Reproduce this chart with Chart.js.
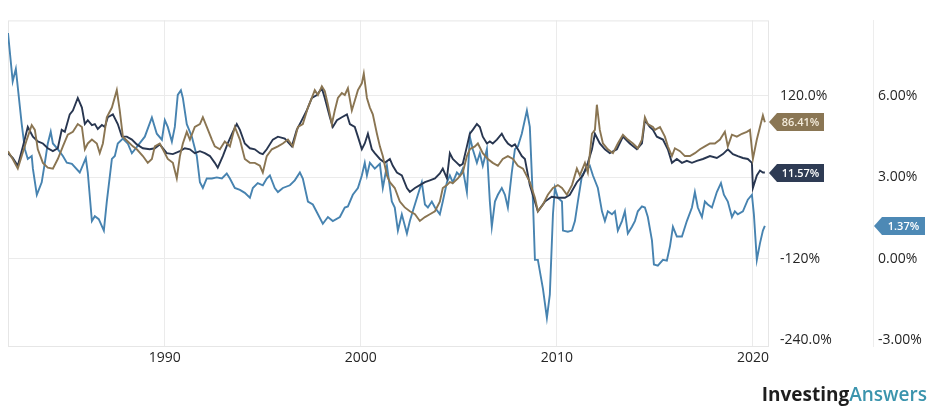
<!DOCTYPE html>
<html lang="en">
<head>
<meta charset="UTF-8">
<title>Returns and rates since 1982</title>
<script src="https://cdn.jsdelivr.net/npm/chart.js"></script>
<style>
  body { margin: 0; background: #fff; }
  #wrap { position: relative; width: 929px; height: 410px; }
  #logo {
    position: absolute; right: 2px; top: 385px;
    font: 700 19px "Open Sans", sans-serif; line-height: 1; color: #1e1e1e;
  }
  #logo span { color: #3b94ad; font-weight: 600; }
</style>
</head>
<body>
<div id="wrap">
  <canvas id="chart"></canvas>
  <div id="logo">Investing<span>Answers</span></div>
</div>

<script>
// x tick labels and both value axes
const xTicks = [1990, 2000, 2010, 2020];
const leftTicks = [120, 0, -120, -240];
const leftTickLabels = ["120.0%", "", "-120%", "-240.0%"];
const rightTicks = [6, 3, 0, -3];
const rightTickLabels = ["6.00%", "3.00%", "0.00%", "-3.00%"];

// end-of-line tags: tan, navy, blue
const endLabels = ["86.41%", "11.57%", "1.37%"];

// tan series (left axis)
const tanYears = [
  1982.00,1982.24,1982.50,1982.70,1982.96,1983.21,1983.37,1983.52,1983.78,1984.03,
  1984.29,1984.54,1984.80,1985.05,1985.31,1985.56,1985.77,1985.92,1986.07,1986.28,
  1986.53,1986.68,1986.84,1987.04,1987.30,1987.55,1987.70,1987.86,1988.11,1988.37,
  1988.57,1988.88,1989.13,1989.34,1989.49,1989.74,1989.90,1990.15,1990.41,1990.61,
  1990.77,1990.92,1991.12,1991.28,1991.53,1991.79,1991.94,1992.14,1992.40,1992.55,
  1992.81,1993.06,1993.32,1993.57,1993.83,1994.08,1994.34,1994.59,1994.85,1995.00,
  1995.20,1995.46,1995.77,1996.02,1996.28,1996.53,1996.79,1997.04,1997.30,1997.50,
  1997.65,1997.81,1998.01,1998.16,1998.32,1998.52,1998.67,1998.83,1999.03,1999.18,
  1999.34,1999.54,1999.69,1999.85,2000.05,2000.15,2000.31,2000.46,2000.61,2000.82,
  2000.97,2001.12,2001.33,2001.48,2001.73,2001.99,2002.24,2002.50,2002.76,2003.01,
  2003.27,2003.52,2003.78,2004.03,2004.18,2004.39,2004.54,2004.69,2004.95,2005.20,
  2005.41,2005.56,2005.82,2005.97,2006.22,2006.48,2006.73,2006.99,2007.24,2007.50,
  2007.76,2008.01,2008.27,2008.62,2008.88,2009.03,2009.29,2009.54,2009.80,2010.05,
  2010.26,2010.51,2010.77,2011.02,2011.17,2011.43,2011.58,2011.79,2011.94,2012.04,
  2012.19,2012.35,2012.60,2012.86,2013.11,2013.37,2013.62,2013.88,2014.13,2014.34,
  2014.49,2014.64,2014.90,2015.00,2015.26,2015.51,2015.66,2015.87,2016.02,2016.28,
  2016.53,2016.79,2017.04,2017.30,2017.55,2017.81,2018.06,2018.32,2018.57,2018.72,
  2018.93,2019.18,2019.44,2019.69,2019.85,2020.00,2020.20,2020.36,2020.51,2020.61
];
const tanValues = [
  38.6,27.1,12.9,31.4,55.7,77.1,70.0,41.4,21.4,14.3,
  12.9,27.1,45.7,62.9,67.1,78.6,74.3,41.4,50.0,55.7,
  50.0,35.7,50.0,88.6,102.9,128.6,98.6,60.0,52.9,45.7,
  41.4,31.4,21.4,27.1,45.7,50.0,41.4,27.1,21.4,-1.4,
  31.4,50.0,67.1,55.7,74.3,78.6,88.6,74.3,55.7,45.7,
  41.4,52.9,45.7,74.3,55.7,27.1,21.4,21.4,17.1,7.1,
  31.4,41.4,45.7,50.0,55.7,45.7,74.3,78.6,102.9,117.1,
  128.6,121.4,134.3,127.1,107.1,78.6,98.6,117.1,124.3,121.4,
  131.4,98.6,112.9,128.6,138.6,152.9,117.1,102.9,92.9,64.3,
  45.7,31.4,2.9,-7.1,-15.7,-35.7,-44.3,-50.0,-54.3,-64.3,
  -58.6,-54.3,-50.0,-35.7,-15.7,-11.4,-7.1,-8.6,-1.4,7.1,
  31.4,41.4,45.7,50.0,35.7,27.1,21.4,17.1,27.1,31.4,
  27.1,17.1,12.9,-7.1,-30.0,-50.0,-40.0,-25.7,-15.7,-11.4,
  -15.7,-25.7,-11.4,12.9,2.9,21.4,7.1,64.3,70.0,107.1,
  70.0,50.0,41.4,35.7,50.0,62.9,55.7,50.0,42.9,55.7,
  88.6,78.6,74.3,70.0,74.3,60.0,45.7,31.4,42.9,38.6,
  31.4,31.4,35.7,41.4,45.7,50.0,50.0,55.7,67.1,45.7,
  62.9,60.0,64.3,67.1,70.0,27.1,55.7,74.3,91.4,81.4
];

// navy series (left axis)
const navyYears = [
  1982.00,1982.24,1982.50,1982.76,1983.01,1983.27,1983.52,1983.78,1984.03,1984.29,
  1984.54,1984.74,1984.90,1985.15,1985.31,1985.56,1985.77,1985.92,1986.07,1986.28,
  1986.43,1986.58,1986.79,1986.94,1987.09,1987.35,1987.60,1987.81,1988.06,1988.32,
  1988.57,1988.88,1989.23,1989.49,1989.74,1990.10,1990.41,1990.77,1991.02,1991.28,
  1991.53,1991.79,1992.04,1992.30,1992.55,1992.70,1992.96,1993.21,1993.47,1993.67,
  1993.83,1994.08,1994.34,1994.59,1994.85,1995.00,1995.20,1995.51,1995.77,1996.12,
  1996.48,1996.73,1996.99,1997.24,1997.50,1997.76,1998.01,1998.16,1998.42,1998.57,
  1998.78,1999.03,1999.29,1999.44,1999.69,1999.85,2000.05,2000.20,2000.36,2000.56,
  2000.71,2000.97,2001.22,2001.48,2001.63,2001.84,2002.09,2002.35,2002.50,2002.76,
  2003.01,2003.27,2003.52,2003.78,2004.03,2004.18,2004.39,2004.54,2004.69,2004.90,
  2005.05,2005.20,2005.41,2005.56,2005.71,2005.92,2006.07,2006.22,2006.43,2006.58,
  2006.73,2006.94,2007.19,2007.35,2007.50,2007.70,2007.86,2008.01,2008.21,2008.37,
  2008.62,2009.03,2009.39,2009.74,2010.05,2010.41,2010.66,2011.02,2011.33,2011.58,
  2011.79,2011.94,2012.19,2012.45,2012.70,2013.06,2013.37,2013.72,2014.08,2014.34,
  2014.49,2014.74,2014.90,2015.10,2015.41,2015.66,2015.87,2016.12,2016.38,2016.63,
  2016.89,2017.14,2017.45,2017.81,2018.16,2018.47,2018.72,2018.98,2019.23,2019.49,
  2019.74,2019.95,2020.00,2020.20,2020.36,2020.51,2020.61
];
const navyValues = [
  35.7,28.6,17.1,45.7,74.3,60.0,52.9,50.0,42.9,38.6,
  42.9,70.0,67.1,92.9,98.6,117.1,102.9,78.6,84.3,77.1,
  78.6,71.4,77.1,74.3,88.6,92.9,78.6,60.0,60.0,55.7,
  48.6,42.9,41.4,42.9,48.6,35.7,34.3,38.6,42.9,41.4,
  35.7,38.6,35.7,31.4,21.4,14.3,31.4,50.0,67.1,78.6,
  70.0,50.0,42.9,41.4,35.7,34.3,41.4,55.7,60.0,57.1,
  45.7,70.0,84.3,98.6,117.1,121.4,131.4,117.1,88.6,74.3,
  84.3,88.6,92.9,78.6,74.3,60.0,41.4,50.0,64.3,41.4,
  35.7,27.1,21.4,27.1,17.1,7.1,2.9,-15.7,-21.4,-15.7,
  -11.4,-7.1,-4.3,-1.4,5.7,12.9,-1.4,35.7,27.1,21.4,
  17.1,20.0,45.7,64.3,70.0,78.6,74.3,60.0,50.0,52.9,
  50.0,55.7,64.3,55.7,50.0,45.7,48.6,41.4,31.4,27.1,
  -11.4,-50.0,-35.7,-28.6,-30.0,-30.0,-25.7,-7.1,2.9,21.4,
  41.4,64.3,50.0,41.4,35.7,41.4,60.0,50.0,41.4,50.0,
  84.3,74.3,70.0,60.0,55.7,41.4,21.4,27.1,21.4,24.3,
  21.4,24.3,27.1,31.4,28.6,34.3,41.4,34.3,31.4,28.6,
  27.1,21.4,-15.7,2.9,10.0,7.1,7.1
];

// light blue series (right axis)
const blueYears = [
  1982.00,1982.24,1982.40,1982.70,1982.86,1983.01,1983.21,1983.27,1983.47,1983.72,
  1983.88,1984.03,1984.18,1984.29,1984.54,1984.80,1985.00,1985.26,1985.66,1985.97,
  1986.07,1986.28,1986.43,1986.63,1986.89,1987.04,1987.30,1987.45,1987.60,1987.86,
  1988.11,1988.32,1988.98,1989.34,1989.59,1989.85,1990.00,1990.15,1990.36,1990.51,
  1990.66,1990.82,1990.92,1991.12,1991.38,1991.63,1991.79,1991.94,1992.14,1992.40,
  1992.65,1992.91,1993.16,1993.32,1993.57,1993.83,1994.08,1994.34,1994.49,1994.74,
  1995.00,1995.20,1995.36,1995.61,1995.77,1996.02,1996.38,1996.63,1996.89,1997.04,
  1997.30,1997.55,1997.81,1998.06,1998.32,1998.57,1998.93,1999.18,1999.34,1999.59,
  1999.85,2000.05,2000.20,2000.31,2000.46,2000.71,2000.97,2001.12,2001.33,2001.58,
  2001.73,2001.89,2002.09,2002.35,2002.50,2002.65,2002.91,2003.11,2003.27,2003.42,
  2003.62,2003.78,2004.03,2004.18,2004.39,2004.54,2004.69,2004.90,2005.05,2005.20,
  2005.41,2005.56,2005.71,2005.92,2006.07,2006.22,2006.43,2006.58,2006.68,2006.84,
  2006.99,2007.19,2007.35,2007.50,2007.70,2007.86,2008.01,2008.21,2008.47,2008.62,
  2008.78,2008.88,2009.03,2009.29,2009.49,2009.64,2009.80,2009.90,2010.05,2010.26,
  2010.31,2010.56,2010.77,2010.92,2011.07,2011.28,2011.53,2011.68,2011.84,2012.09,
  2012.30,2012.45,2012.60,2012.81,2012.96,2013.11,2013.32,2013.47,2013.62,2013.83,
  2013.98,2014.13,2014.34,2014.49,2014.64,2014.85,2014.95,2015.15,2015.41,2015.61,
  2015.77,2015.92,2016.12,2016.38,2016.63,2016.89,2017.04,2017.19,2017.40,2017.55,
  2017.70,2017.91,2018.16,2018.37,2018.52,2018.72,2018.93,2019.08,2019.23,2019.49,
  2019.74,2019.95,2020.05,2020.20,2020.36,2020.51,2020.61
];
const blueValues = [
  8.32,6.54,7.00,4.96,4.04,3.68,3.79,3.32,2.36,2.82,
  3.54,4.25,4.68,4.25,4.04,3.79,3.54,3.50,3.18,3.71,
  3.18,1.39,1.57,1.46,1.04,2.11,3.68,3.79,4.25,4.43,
  4.25,3.89,4.50,5.21,4.61,4.39,5.11,4.86,4.32,4.86,
  6.04,6.21,5.93,4.96,4.50,3.79,2.82,2.61,2.96,2.96,
  3.00,2.96,3.14,2.96,2.61,2.54,2.43,2.25,2.61,2.79,
  2.71,2.96,3.07,2.61,2.46,2.61,2.71,2.89,3.18,2.96,
  2.11,2.00,1.64,1.29,1.54,1.39,1.54,1.89,1.93,2.36,
  2.61,3.07,3.54,3.07,3.54,3.32,3.50,2.61,3.43,2.11,
  1.89,1.04,1.64,0.93,1.39,1.75,2.36,2.82,2.00,1.89,
  2.11,1.89,1.64,2.11,2.82,3.07,2.82,3.18,3.07,3.32,
  2.46,4.50,4.04,3.54,3.89,3.43,4.04,2.11,1.18,2.11,
  2.36,2.61,2.36,1.89,3.18,4.04,4.14,4.61,5.46,4.86,
  2.11,-0.04,-0.04,-1.11,-2.18,-1.32,1.64,2.61,2.25,2.11,
  1.04,1.00,1.04,1.39,2.11,3.07,3.32,3.43,3.07,2.61,
  1.75,1.39,1.75,1.64,1.75,1.04,1.39,1.75,0.93,1.18,
  1.39,1.75,1.93,1.89,1.54,0.68,-0.21,-0.25,-0.04,-0.07,
  0.46,1.18,0.82,0.82,1.39,1.89,2.46,1.89,1.54,2.11,
  2.00,1.89,2.46,2.79,2.36,2.11,1.54,1.75,1.64,1.75,
  2.18,2.36,1.64,-0.04,0.57,1.04,1.21
];

const pairs = (xs, ys) => xs.map((x, i) => ({ x: x, y: ys[i] }));
const tickFont = { family: "'Open Sans', sans-serif", size: 14, weight: "500" };
const gridColor = "#ebebeb";

// light frame round the plot
const frame = {
  id: "frame",
  beforeDatasetsDraw(chart) {
    const a = chart.chartArea, ctx = chart.ctx;
    ctx.save();
    ctx.strokeStyle = "#e6e6e6";
    ctx.lineWidth = 1;
    ctx.strokeRect(a.left + 0.5, a.top + 0.5, a.right - a.left, a.bottom - a.top);
    ctx.restore();
  }
};

// value tags at the end of each line
const tagFill = ["#8a7654", "#2e3b54", "#4d89b5"];
const tagText = ["#f4ecdc", "#ffffff", "#ffffff"];
const endTags = {
  id: "endTags",
  afterDraw(chart) {
    const ctx = chart.ctx;
    chart.data.datasets.forEach((ds, i) => {
      const last = ds.data[ds.data.length - 1];
      const scale = chart.scales[ds.yAxisID];
      const y = Math.round(scale.getPixelForValue(last.y));
      const x0 = ds.yAxisID === "y" ? chart.chartArea.right : scale.left;
      const w = ds.yAxisID === "y" ? 56 : 52;
      const h = 9;
      ctx.save();
      ctx.fillStyle = tagFill[i];
      ctx.beginPath();
      ctx.moveTo(x0 + 1, y);
      ctx.lineTo(x0 + 9, y - h);
      ctx.lineTo(x0 + w, y - h);
      ctx.lineTo(x0 + w, y + h);
      ctx.lineTo(x0 + 9, y + h);
      ctx.closePath();
      ctx.fill();
      ctx.fillStyle = tagText[i];
      ctx.font = "600 11px 'Open Sans', sans-serif";
      ctx.textAlign = "center";
      ctx.textBaseline = "middle";
      ctx.fillText(endLabels[i], x0 + (9 + w) / 2, y + 0.5);
      ctx.restore();
    });
  }
};

new Chart(document.getElementById("chart"), {
  type: "line",
  data: {
    datasets: [
      { data: pairs(tanYears, tanValues), borderColor: "#8a7552", yAxisID: "y", order: 0 },
      { data: pairs(navyYears, navyValues), borderColor: "#283650", yAxisID: "y", order: 1 },
      { data: pairs(blueYears, blueValues), borderColor: "#4783b0", yAxisID: "y2", order: 2 }
    ]
  },
  options: {
    responsive: true,
    maintainAspectRatio: false,
    animation: false,
    layout: { padding: { left: 8, top: 10, right: 0, bottom: 0 } },
    elements: {
      line: { borderWidth: 1.9, tension: 0 },
      point: { radius: 0 }
    },
    plugins: { legend: { display: false }, tooltip: { enabled: false } },
    scales: {
      x: {
        type: "linear",
        min: 1982,
        max: 2020.77,
        afterBuildTicks: s => { s.ticks = xTicks.map(v => ({ value: v })); },
        afterFit: s => { s.height = 64; },
        ticks: {
          font: tickFont, color: "#262626", padding: 4,
          autoSkip: false, maxRotation: 0,
          callback: v => String(v)
        },
        grid: { color: gridColor, drawTicks: false },
        border: { display: false }
      },
      y: {
        type: "linear",
        position: "right",
        min: -248.6,
        max: 231.4,
        afterBuildTicks: s => { s.ticks = leftTicks.map(v => ({ value: v })); },
        afterFit: s => { s.width = 105; },
        ticks: {
          font: tickFont, color: "#262626", padding: 12,
          callback: v => leftTickLabels[leftTicks.indexOf(v)]
        },
        grid: {
          drawTicks: false,
          color: c => (c.tick && c.tick.value === -240 ? "rgba(0,0,0,0)" : gridColor)
        },
        border: { display: false }
      },
      y2: {
        type: "linear",
        position: "right",
        min: -3.214,
        max: 8.786,
        afterBuildTicks: s => { s.ticks = rightTicks.map(v => ({ value: v })); },
        afterFit: s => { s.width = 56; },
        ticks: {
          font: tickFont, color: "#262626", padding: 5,
          callback: v => rightTickLabels[rightTicks.indexOf(v)]
        },
        grid: { display: false, drawTicks: false },
        border: { display: true, color: "#ededed" }
      }
    }
  },
  plugins: [frame, endTags]
});
</script>
</body>
</html>
